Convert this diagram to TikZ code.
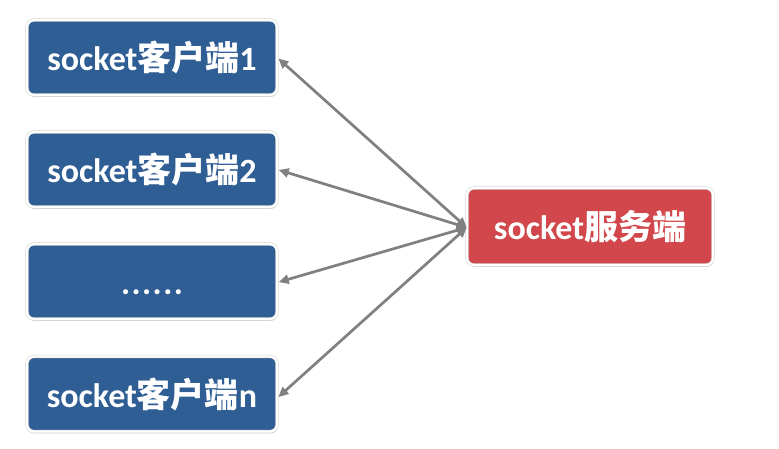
\documentclass[tikz,border=0pt]{standalone}
\usepackage{fontspec}
\setmainfont{Carlito}
\newfontfamily\cjk{Noto Sans CJK SC}
\usetikzlibrary{arrows.meta,shadows}
\definecolor{cblue}{HTML}{2F5E94}
\definecolor{cred}{HTML}{D2474B}
\definecolor{agrey}{HTML}{808080}
\tikzset{
  box/.style={rounded corners=7pt, draw=black!18, double=white, double distance=2.2pt, line width=0.5pt,
    minimum width=250pt, minimum height=75pt,
    text=white, font=\fontsize{34}{36}\selectfont\bfseries, inner sep=0pt,
    drop shadow={shadow xshift=0.8pt, shadow yshift=-1.8pt, opacity=0.3, fill=black!60}},
  client/.style={box, fill=cblue},
  server/.style={box, fill=cred, minimum width=246pt, minimum height=77pt},
  link/.style={draw=agrey, line width=2.7pt, {Triangle[length=10pt,width=9pt]}-{Triangle[length=10pt,width=9pt]}, shorten <=1.5pt}
}
\begin{document}
\begin{tikzpicture}[x=1pt,y=-1pt]
\useasboundingbox[fill=white] (0,0) rectangle (779,448);
\node[client] (c1) at (152,57.5) {socket{\cjk\bfseries 客户端}1};
\node[client] (c2) at (152,169.5) {socket{\cjk\bfseries 客户端}2};
\node[client] (c3) at (152,281.5) {\vphantom{socket{\cjk\bfseries 客户端}}.\kern1.5pt.\kern1.5pt.\kern1.5pt.\kern1.5pt.\kern1.5pt.};
\node[client] (c4) at (152,394) {socket{\cjk\bfseries 客户端}n};
\node[server] (s) at (590,226.5) {socket{\cjk\bfseries 服务端}};
\draw[link] (c1.east) -- ([yshift=-1pt]s.west);
\draw[link] (c2.east) -- ([yshift=-1pt]s.west);
\draw[link] ([yshift=-1pt]c3.east) -- ([yshift=-1pt]s.west);
\draw[link] ([yshift=-4pt]c4.east) -- ([yshift=-1pt]s.west);
\end{tikzpicture}
\end{document}
